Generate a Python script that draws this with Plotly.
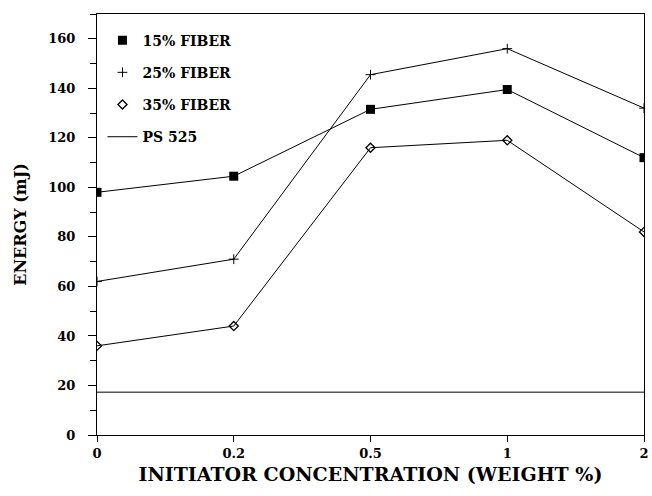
import plotly.graph_objects as go

categories = ["0", "0.2", "0.5", "1", "2"]
fiber15 = [98, 104.5, 131.5, 139.5, 112]
fiber25 = [62, 71, 145.5, 156, 132]
fiber35 = [36, 44, 116, 119, 82]
ps525 = [17.3, 17.3, 17.3, 17.3, 17.3]
y_ticks = [0, 20, 40, 60, 80, 100, 120, 140, 160]

FONT = "DejaVu Serif"
names = ["<b>15% FIBER</b>", "<b>25% FIBER</b>", "<b>35% FIBER</b>"]
markers = [
    dict(symbol="square", size=9, color="black"),
    dict(symbol="cross-thin", size=7, color="black", line=dict(color="black", width=1)),
    dict(symbol="diamond-open", size=7, color="black", line=dict(width=1.3)),
]
fig = go.Figure()
for i, (ys, mk) in enumerate(zip([fiber15, fiber25, fiber35], markers)):
    fig.add_trace(go.Scatter(x=categories, y=ys, mode="lines+markers", showlegend=False,
                             line=dict(color="black", width=1), marker=mk))
    fig.add_trace(go.Scatter(x=[None], y=[None], mode="markers", name=names[i],
                             legendgroup=str(i), marker=mk))
fig.add_trace(go.Scatter(x=categories, y=ps525, name="<b>PS 525</b>", legendgroup="3",
                         mode="lines", line=dict(color="black", width=1)))

fig.update_layout(
    width=652, height=496,
    margin=dict(l=97, r=3, t=14, b=61),
    paper_bgcolor="white", plot_bgcolor="white",
    font=dict(family=FONT, size=13, color="black"),
    legend=dict(x=0.01, y=0.975, xanchor="left", yanchor="top", bgcolor="rgba(0,0,0,0)",
                tracegroupgap=11, font=dict(size=14, family=FONT), itemwidth=30),
    showlegend=True,
)
fig.update_xaxes(
    type="category", categoryorder="array", categoryarray=categories,
    range=[0, 4], showgrid=False, zeroline=False,
    showline=True, linecolor="black", linewidth=1, mirror=True,
    ticks="outside", ticklen=6, tickcolor="black",
    tickfont=dict(family=FONT, size=13),
    tickvals=categories, ticktext=["<b>%s</b>" % c for c in categories],
    title=dict(text="<b>INITIATOR CONCENTRATION (WEIGHT %)</b>", font=dict(family=FONT, size=19), standoff=8),
)
fig.update_yaxes(
    range=[0, 170], showgrid=False, zeroline=False,
    showline=True, linecolor="black", linewidth=1, mirror=True,
    ticks="outside", ticklen=8, tickcolor="black",
    tickvals=y_ticks, ticktext=["<b>%d</b>" % v for v in y_ticks],
    tickfont=dict(family=FONT, size=13), ticklabelstandoff=10,
    minor=dict(dtick=10, ticks="outside", ticklen=6, tickcolor="black"),
    title=dict(text="<b>ENERGY (mJ)</b>", font=dict(family=FONT, size=16), standoff=17),
)
fig.write_html("out.html")
